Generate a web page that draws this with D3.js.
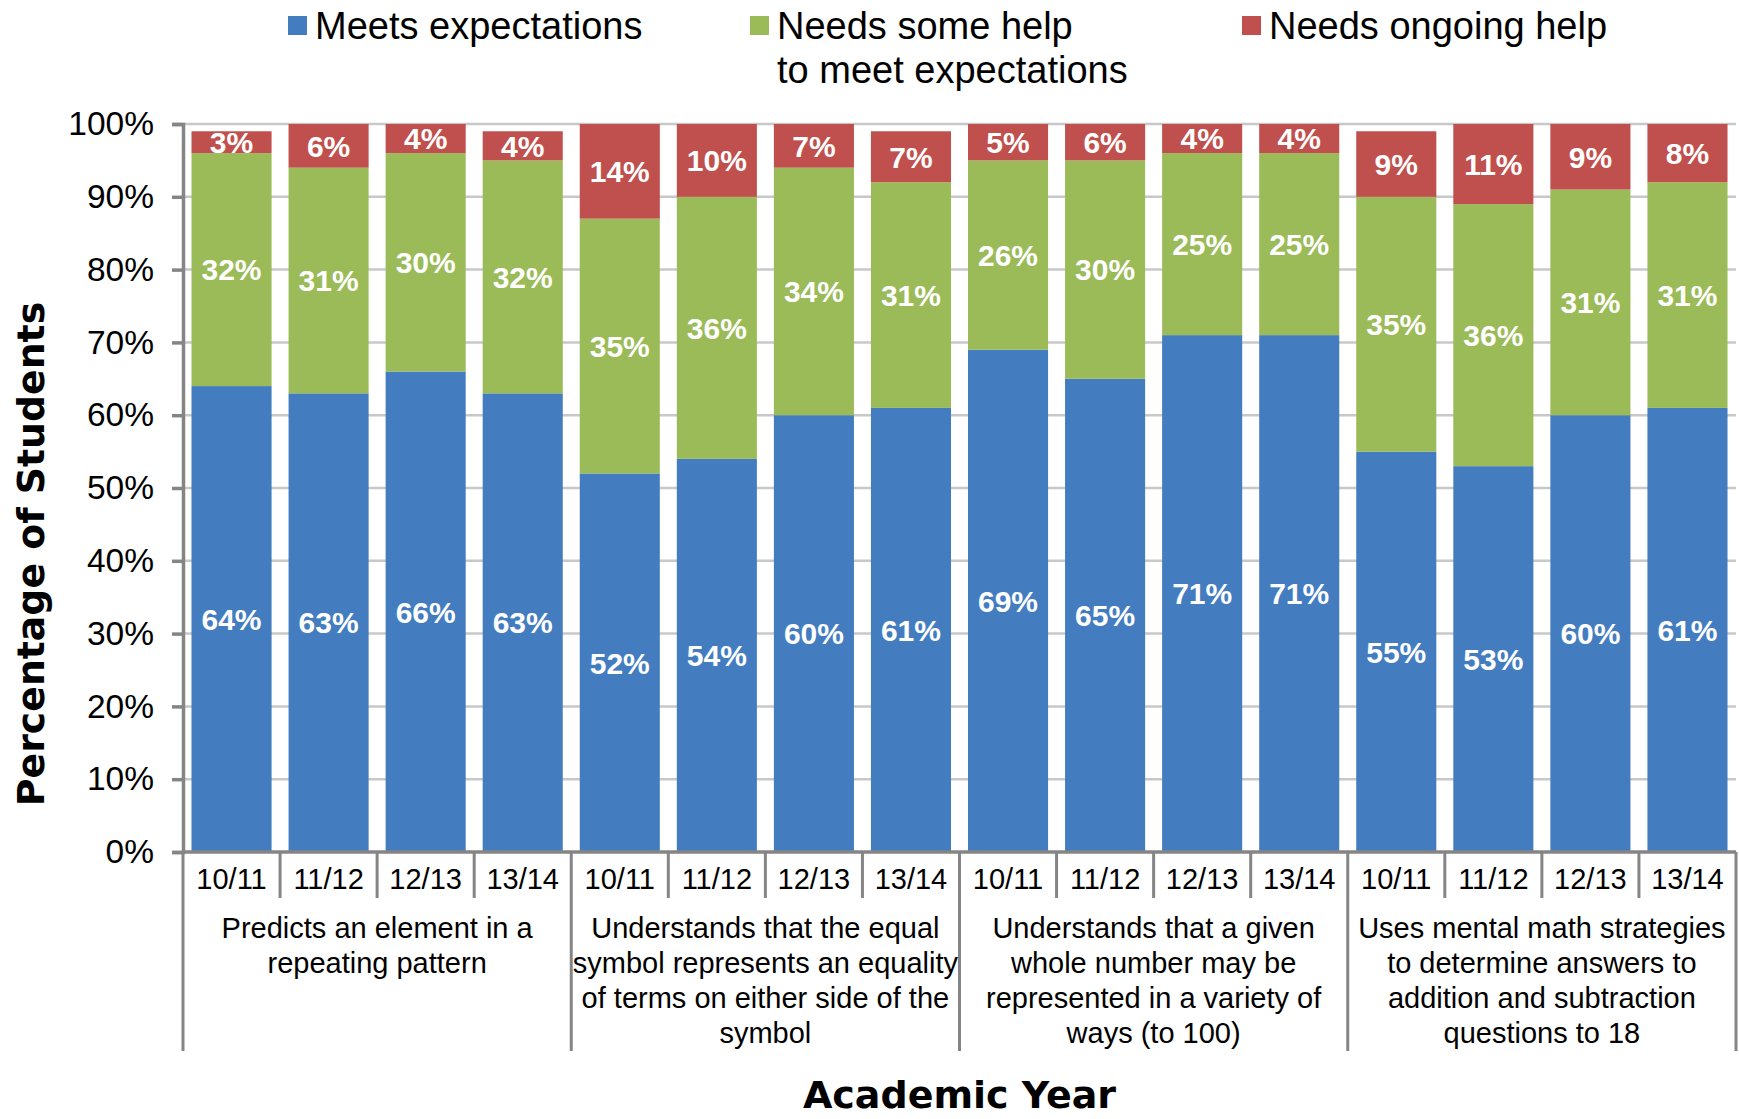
<!DOCTYPE html>
<html>
<head>
<meta charset="utf-8">
<script src="https://cdn.jsdelivr.net/npm/d3@7"></script>
<style>
  html, body { margin: 0; padding: 0; background: #fff; }
  svg { display: block; }
</style>
</head>
<body>
<svg id="chart" width="1739" height="1119"></svg>
<script>
// Academic years shown under every bar
const years = ["10/11", "11/12", "12/13", "13/14"];

// Outcome groups (label lines as wrapped under the axis)
const groups = [
  ["Predicts an element in a", "repeating pattern"],
  ["Understands that the equal", "symbol represents an equality", "of terms on either side of the", "symbol"],
  ["Understands that a given", "whole number may be", "represented in a variety of", "ways (to 100)"],
  ["Uses mental math strategies", "to determine answers to", "addition and subtraction", "questions to 18"]
];

// Percent of students per bar, group by group, year by year
const meets    = [64, 63, 66, 63, 52, 54, 60, 61, 69, 65, 71, 71, 55, 53, 60, 61];
const someHelp = [32, 31, 30, 32, 35, 36, 34, 31, 26, 30, 25, 25, 35, 36, 31, 31];
const ongoing  = [3, 6, 4, 4, 14, 10, 7, 7, 5, 6, 4, 4, 9, 11, 9, 8];

const seriesNames = ["Meets expectations", "Needs some help\nto meet expectations", "Needs ongoing help"];
const seriesColors = ["#437DBF", "#9BBB59", "#C0504D"];
const yTicks = [0, 10, 20, 30, 40, 50, 60, 70, 80, 90, 100];

const rows = meets.map((m, i) => ({
  idx: i,
  group: Math.floor(i / years.length),
  year: years[i % years.length],
  s0: m, s1: someHelp[i], s2: ongoing[i]
}));

const svg = d3.select("#chart");
const plot = { left: 183, right: 1736, top: 124, bottom: 852 };

const x = d3.scaleBand()
  .domain(rows.map(d => d.idx))
  .range([plot.left, plot.right])
  .paddingInner(0.175)
  .paddingOuter(0.0875);

const y = d3.scaleLinear().domain([0, 100]).range([plot.bottom, plot.top]);

const stack = d3.stack().keys(["s0", "s1", "s2"]);
const layers = stack(rows);

// clip so segments never draw above 100%
svg.append("clipPath").attr("id", "plotClip")
  .append("rect")
  .attr("x", plot.left).attr("y", plot.top)
  .attr("width", plot.right - plot.left).attr("height", plot.bottom - plot.top);

// horizontal gridlines
svg.append("g")
  .selectAll("line")
  .data(yTicks.filter(t => t > 0))
  .join("line")
  .attr("x1", plot.left).attr("x2", plot.right)
  .attr("y1", d => y(d)).attr("y2", d => y(d))
  .attr("stroke", "#C8C8C8").attr("stroke-width", 2.5);

// stacked bars
const barG = svg.append("g").attr("clip-path", "url(#plotClip)");
layers.forEach((layer, li) => {
  barG.append("g")
    .attr("fill", seriesColors[li])
    .selectAll("rect")
    .data(layer)
    .join("rect")
    .attr("x", d => x(d.data.idx))
    .attr("width", x.bandwidth())
    .attr("y", d => y(d[1]))
    .attr("height", d => y(d[0]) - y(d[1]));
});

// value labels, centred in the visible part of each segment
const labelG = svg.append("g")
  .attr("font-family", "'Liberation Sans', Arial, sans-serif")
  .attr("font-weight", "bold")
  .attr("font-size", 30)
  .attr("fill", "#fff")
  .attr("text-anchor", "middle");
layers.forEach((layer, li) => {
  labelG.append("g")
    .selectAll("text")
    .data(layer)
    .join("text")
    .attr("x", d => x(d.data.idx) + x.bandwidth() / 2)
    .attr("y", d => y((d[0] + Math.min(d[1], 100)) / 2))
    .attr("dy", "0.36em")
    .text(d => (d[1] - d[0]) + "%");
});

// y axis
const yAxis = d3.axisLeft(y)
  .tickValues(yTicks)
  .tickFormat(d => d + "%")
  .tickSize(11)
  .tickPadding(18);
const yAxisG = svg.append("g")
  .attr("transform", `translate(${plot.left},0)`)
  .call(yAxis);
yAxisG.select(".domain").attr("stroke", "#858585").attr("stroke-width", 3.5);
yAxisG.selectAll(".tick line").attr("stroke", "#858585").attr("stroke-width", 3.5);
yAxisG.selectAll(".tick text")
  .attr("font-family", "'Liberation Sans', Arial, sans-serif")
  .attr("font-size", 33.5)
  .attr("fill", "#000");

// x axis baseline and separators
const step = x.step();
const xAxisG = svg.append("g").attr("stroke", "#858585").attr("stroke-width", 3);
xAxisG.append("line")
  .attr("x1", plot.left).attr("x2", plot.right)
  .attr("y1", plot.bottom).attr("y2", plot.bottom)
  .attr("stroke-width", 3.5);
const boundaries = d3.range(rows.length + 1);
xAxisG.selectAll("line.sep")
  .data(boundaries)
  .join("line")
  .attr("class", "sep")
  .attr("x1", i => plot.left + i * step)
  .attr("x2", i => plot.left + i * step)
  .attr("y1", plot.bottom)
  .attr("y2", i => (i % years.length === 0) ? 1051 : 898);

// year labels
svg.append("g")
  .attr("font-family", "'Liberation Sans', Arial, sans-serif")
  .attr("font-size", 29)
  .attr("text-anchor", "middle")
  .selectAll("text")
  .data(rows)
  .join("text")
  .attr("x", d => x(d.idx) + x.bandwidth() / 2)
  .attr("y", 879)
  .attr("dy", "0.36em")
  .text(d => d.year);

// group labels
const gl = svg.append("g")
  .attr("font-family", "'Liberation Sans', Arial, sans-serif")
  .attr("font-size", 29)
  .attr("text-anchor", "middle");
groups.forEach((lines, gi) => {
  const cx = plot.left + (gi * years.length + years.length / 2) * step;
  const t = gl.append("text").attr("x", cx).attr("y", 928);
  lines.forEach((ln, li) => {
    t.append("tspan")
      .attr("x", cx)
      .attr("y", 928 + li * 35)
      .attr("dy", "0.36em")
      .text(ln);
  });
});

// axis titles
svg.append("text")
  .attr("x", (plot.left + plot.right) / 2)
  .attr("y", 1108)
  .attr("text-anchor", "middle")
  .attr("font-family", "'DejaVu Sans', Verdana, sans-serif")
  .attr("font-weight", "bold")
  .attr("font-size", 38)
  .text("Academic Year");

svg.append("text")
  .attr("transform", "translate(44,554) rotate(-90)")
  .attr("text-anchor", "middle")
  .attr("font-family", "'DejaVu Sans', Verdana, sans-serif")
  .attr("font-weight", "bold")
  .attr("font-size", 37.8)
  .text("Percentage of Students");

// legend
const legendX = [288, 750, 1242];
const leg = svg.append("g")
  .attr("font-family", "'Liberation Sans', Arial, sans-serif")
  .attr("font-size", 38);
seriesNames.forEach((name, i) => {
  leg.append("rect")
    .attr("x", legendX[i]).attr("y", 16)
    .attr("width", 19).attr("height", 19)
    .attr("fill", seriesColors[i]);
  name.split("\n").forEach((ln, li) => {
    leg.append("text")
      .attr("x", legendX[i] + 27)
      .attr("y", 25 + li * 44)
      .attr("dy", "0.36em")
      .text(ln);
  });
});
</script>
</body>
</html>
